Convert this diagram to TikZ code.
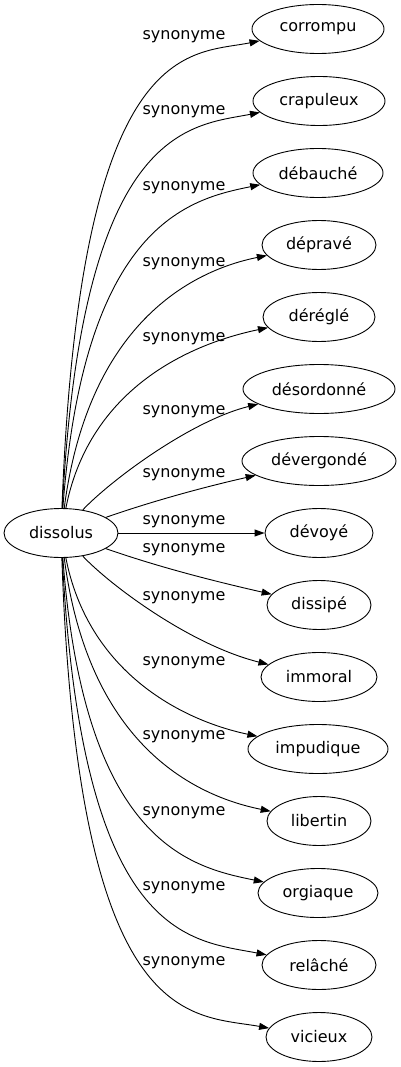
\documentclass[tikz,border=0pt]{standalone}
\usepackage{fontspec}
\setmainfont{DejaVu Sans}
\usetikzlibrary{shapes,arrows.meta}

\begin{document}
\begin{tikzpicture}[x=1pt,y=-1pt,
		font=\fontsize{16pt}{19pt}\selectfont,
		word/.style={draw,ellipse,line width=0.9pt,minimum height=49pt,inner sep=0pt},
		syn/.style={line width=0.9pt,-{Triangle[length=10pt,width=7pt]}},
		lbl/.style={inner sep=0pt}]
		\useasboundingbox (0,0) rectangle (401,1067);
		% Wort
		\node[word,minimum width=114pt] (dissolus) at (61,533) {dissolus};
		% Synonyme
		\node[word,minimum width=132pt] (corrompu) at (318,29) {corrompu};
		\node[word,minimum width=132pt] (crapuleux) at (319,101) {crapuleux};
		\node[word,minimum width=130pt] (debauche) at (318,173) {débauché};
		\node[word,minimum width=114pt] (deprave) at (319,245) {dépravé};
		\node[word,minimum width=112pt] (deregle) at (319,317) {déréglé};
		\node[word,minimum width=152pt] (desordonne) at (319,389) {désordonné};
		\node[word,minimum width=154pt] (devergonde) at (319,461) {dévergondé};
		\node[word,minimum width=108pt] (devoye) at (319,533) {dévoyé};
		\node[word,minimum width=104pt] (dissipe) at (319,605) {dissipé};
		\node[word,minimum width=116pt] (immoral) at (319,677) {immoral};
		\node[word,minimum width=140pt] (impudique) at (318,749) {impudique};
		\node[word,minimum width=104pt] (libertin) at (319,821) {libertin};
		\node[word,minimum width=120pt] (orgiaque) at (318,893) {orgiaque};
		\node[word,minimum width=114pt] (relache) at (319,965) {relâché};
		\node[word,minimum width=106pt] (vicieux) at (319,1037) {vicieux};
		% Kanten oben
		\draw[syn] (dissolus) .. controls (80,34) and (190,55) .. (corrompu);
		\draw[syn] (dissolus) .. controls (82,125) and (190,126) .. (crapuleux);
		\draw[syn] (dissolus) .. controls (84,223) and (190,199) .. (debauche);
		\draw[syn] (dissolus) .. controls (88,325) and (190,271) .. (deprave);
		\draw[syn] (dissolus) .. controls (88,395) and (180,346) .. (deregle);
		\draw[syn] (dissolus) .. controls (110,481) and (190,421) .. (desordonne);
		\draw[syn] (dissolus) .. controls (150,502) and (200,488) .. (devergonde);
		\draw[syn] (dissolus) -- (devoye);
		% Kanten unten
		\draw[syn] (dissolus) .. controls (150,564) and (200,578) .. (dissipe);
		\draw[syn] (dissolus) .. controls (110,585) and (190,645) .. (immoral);
		\draw[syn] (dissolus) .. controls (88,671) and (180,720) .. (impudique);
		\draw[syn] (dissolus) .. controls (88,741) and (190,795) .. (libertin);
		\draw[syn] (dissolus) .. controls (84,843) and (190,867) .. (orgiaque);
		\draw[syn] (dissolus) .. controls (82,941) and (190,940) .. (relache);
		\draw[syn] (dissolus) .. controls (78,1032) and (190,1014) .. (vicieux);
		% labels
		\node[lbl] (l1) at (184,37) {synonyme};
		\node[lbl] (l2) at (184,112) {synonyme};
		\node[lbl] (l3) at (184,188) {synonyme};
		\node[lbl] (l4) at (184,264) {synonyme};
		\node[lbl] (l5) at (184,339) {synonyme};
		\node[lbl] (l6) at (184,412) {synonyme};
		\node[lbl] (l7) at (184,475) {synonyme};
		\node[lbl] (l8) at (184,522) {synonyme};
		\node[lbl] (l9) at (184,550) {synonyme};
		\node[lbl] (l10) at (184,598) {synonyme};
		\node[lbl] (l11) at (184,663) {synonyme};
		\node[lbl] (l12) at (184,737) {synonyme};
		\node[lbl] (l13) at (184,813) {synonyme};
		\node[lbl] (l14) at (184,888) {synonyme};
		\node[lbl] (l15) at (184,963) {synonyme};
\end{tikzpicture}
\end{document}
